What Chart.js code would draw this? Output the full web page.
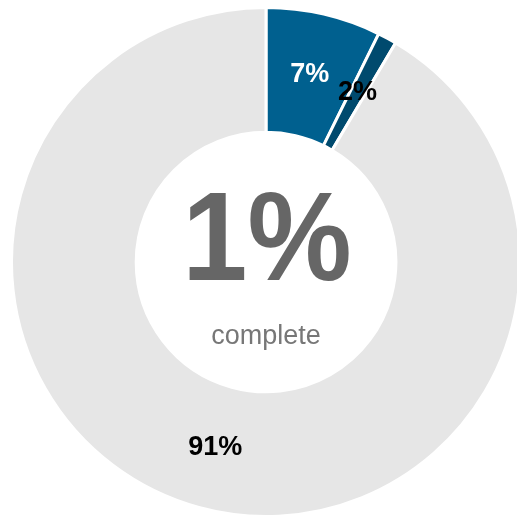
<!DOCTYPE html>
<html>
<head>
<meta charset="utf-8">
<script src="https://cdn.jsdelivr.net/npm/chart.js@4/dist/chart.umd.min.js"></script>
<style>
  html,body{margin:0;padding:0;background:#fff;overflow:hidden}
  #wrap{position:relative;width:522px;height:518px}
</style>
</head>
<body>
<div id="wrap"><canvas id="donut"></canvas></div>
<script>
const categories = ['Done', 'In progress', 'Remaining']
const values = [7.3, 1.2, 91.5]
const valueLabels = ['7%', '2%', '91%']
const labelColors = ['#ffffff', '#000000', '#000000']
const centerValue = '1%'
const centerCaption = 'complete'

// slice labels + center text
const sliceText = {
  id: 'sliceText',
  afterDatasetsDraw(chart){
    const ctx = chart.ctx
    const meta = chart.getDatasetMeta(0)
    ctx.save()
    ctx.textAlign = 'center'
    ctx.textBaseline = 'middle'
    ctx.font = 'bold 27px "Liberation Sans", Arial, sans-serif'
    meta.data.forEach((arc, i) => {
      const p = arc.tooltipPosition()
      ctx.fillStyle = labelColors[i]
      ctx.fillText(valueLabels[i], p.x, p.y)
    })
    const a = meta.data[0]
    ctx.textBaseline = 'alphabetic'
    ctx.fillStyle = '#666666'
    ctx.font = 'bold 126px "Liberation Sans", Arial, sans-serif'
    ctx.save()
    ctx.translate(a.x + 1, a.y + 18)
    ctx.scale(0.93, 1)
    ctx.fillText(centerValue, 0, 0)
    ctx.restore()
    ctx.fillStyle = '#777777'
    ctx.font = '27px "Liberation Sans", Arial, sans-serif'
    ctx.fillText(centerCaption, a.x, a.y + 82)
    ctx.restore()
  }
}

new Chart(document.getElementById('donut'), {
  type: 'doughnut',
  data: {
    labels: categories,
    datasets: [{
      data: values,
      backgroundColor: ['#00608f', '#004a6e', '#e6e6e6'],
      borderColor: '#ffffff',
      borderWidth: 3,
      hoverOffset: 0
    }]
  },
  options: {
    responsive: true,
    maintainAspectRatio: false,
    animation: false,
    cutout: '51%',
    layout: { padding: { top: 6, left: 10, right: 0, bottom: 0 } },
    plugins: { legend: { display: false }, tooltip: { enabled: false } }
  },
  plugins: [sliceText]
})
</script>
</body>
</html>
